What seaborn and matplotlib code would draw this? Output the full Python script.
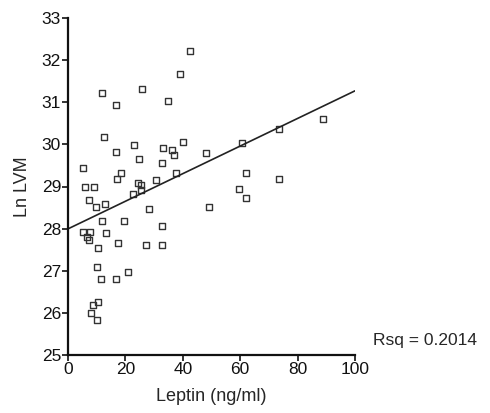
import matplotlib
matplotlib.use("Agg")
import matplotlib.pyplot as plt
import seaborn as sns
import pandas as pd

leptin = [42.5, 39.0, 25.8, 11.8, 16.7, 34.8, 12.5, 23.0, 16.7, 24.7,
          33.1, 36.2, 36.9, 40.1, 48.1, 32.8, 5.2, 18.5, 17.1, 30.7,
          37.6, 24.4, 25.4, 25.4, 22.6, 5.9, 9.1, 7.3, 9.8, 12.9,
          28.2, 49.1, 11.8, 19.5, 32.8, 5.2, 7.7, 6.6, 7.3, 13.2,
          10.5, 17.4, 27.2, 32.8, 10.1, 20.9, 11.5, 16.7, 10.5, 8.7,
          8.0, 10.1, 88.9, 73.5, 60.6, 62.0, 73.5, 59.6, 62.0]
ln_lvm = [32.22, 31.67, 31.31, 31.22, 30.93, 31.03, 30.18, 29.99, 29.82, 29.65,
          29.91, 29.87, 29.75, 30.06, 29.80, 29.56, 29.44, 29.32, 29.18, 29.15,
          29.32, 29.08, 29.04, 28.92, 28.82, 28.99, 28.99, 28.68, 28.51, 28.58,
          28.47, 28.51, 28.18, 28.18, 28.06, 27.92, 27.92, 27.80, 27.73, 27.90,
          27.54, 27.66, 27.61, 27.61, 27.09, 26.97, 26.80, 26.80, 26.26, 26.19,
          26.00, 25.83, 30.60, 30.37, 30.03, 29.32, 29.18, 28.94, 28.73]
x_ticks = [0, 20, 40, 60, 80, 100]
y_ticks = [25, 26, 27, 28, 29, 30, 31, 32, 33]
x_label = "Leptin (ng/ml)"
y_label = "Ln LVM"
rsq_text = "Rsq = 0.2014"

df = pd.DataFrame({"Leptin": leptin, "LnLVM": ln_lvm})

sns.set_style("ticks")
plt.rcParams["font.family"] = ["Liberation Sans", "DejaVu Sans"]

fig = plt.figure(figsize=(4.9, 4.13), dpi=100)
ax = fig.add_axes([68 / 490, 1 - 355 / 413, (355 - 68) / 490, (355 - 18) / 413])
ax.set_xlim(0, 100)
ax.set_ylim(25, 33)

sns.scatterplot(data=df, x="Leptin", y="LnLVM", ax=ax, marker="s", s=17,
                facecolor="none", edgecolor="#333333", linewidth=1.0, legend=False)
sns.regplot(data=df, x="Leptin", y="LnLVM", ax=ax, scatter=False, ci=None,
            truncate=False, line_kws={"color": "#222222", "linewidth": 1.2})

ax.set_xlim(0, 100)
ax.set_ylim(25, 33)
ax.set_xticks(x_ticks)
ax.set_yticks(y_ticks)
ax.tick_params(axis="both", direction="out", length=4, width=1.2,
               labelsize=12.5, colors="#111111", pad=1)
for s in ["top", "right"]:
    ax.spines[s].set_visible(False)
for s in ["left", "bottom"]:
    ax.spines[s].set_linewidth(1.6)
    ax.spines[s].set_color("#111111")
ax.set_xlabel(x_label, fontsize=13, labelpad=8)
ax.set_ylabel(y_label, fontsize=13, labelpad=8)

fig.text(373 / 490, 1 - 340 / 413, rsq_text, fontsize=12.5, va="center", ha="left")

fig.savefig("out.png", dpi=100)
